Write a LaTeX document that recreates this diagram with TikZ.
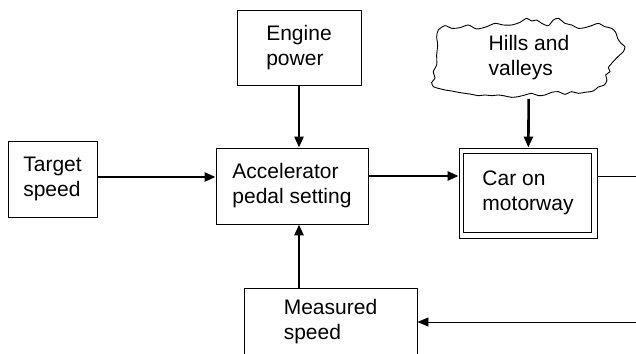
\documentclass[tikz,border=0pt]{standalone}
\usepackage{fontspec}
\setmainfont{Liberation Sans}
\usetikzlibrary{arrows.meta,positioning}
\tikzset{
  block/.style={draw, line width=0.9pt, align=left, inner sep=0pt,
    font=\fontsize{21}{25}\selectfont},
  cloudtext/.style={block, draw=none},
  flow/.style={-{Triangle[length=11pt,width=9pt]}, line width=2.6pt},
  feed/.style={-{Triangle[length=11pt,width=9pt]}, line width=0.9pt},
}

\begin{document}
\begin{tikzpicture}[x=1pt, y=-1pt]
\clip (0,0) rectangle (636,353);

% Controller chain
\node[block, minimum width=152pt, minimum height=76pt] (accel) at (292,186) {Accelerator\\pedal setting};
\node[block, minimum width=89pt, minimum height=76pt] (target) at (52.5,179) {Target\\speed};
\node[block, minimum width=124pt, minimum height=75pt] (engine) at (299,47.5) {Engine\\power};
\node[block, minimum width=173pt, minimum height=68pt] (measured) at (330.5,322) {Measured\\speed};

% The plant (double frame) and its disturbance
\node[block, minimum width=138pt, minimum height=90pt] (car) at (528,193) {Car on\\motorway};
\draw[line width=0.9pt] ([shift={(5pt,-6pt)}]car.north west) rectangle ([shift={(-6pt,6pt)}]car.south east);
\node[cloudtext, minimum width=186pt, minimum height=82pt] (hills) at (529,57.5) {Hills and\\valleys};
\begin{scope}[shift={(425,5)}, x=0.3333pt, y=-0.3333pt]
  \draw[line width=0.9pt] plot[smooth cycle, tension=0.45] coordinates {
    (40,75) (60,62) (80,70) (105,68) (130,60) (155,72) (185,65) (210,55)
    (235,60) (260,60) (285,52) (305,40) (320,48) (335,45) (350,55) (370,62)
    (385,45) (400,40) (420,55) (440,60) (460,70) (480,68) (505,60) (520,55)
    (540,65) (560,70) (572,82) (578,100) (588,115) (600,125) (595,140)
    (582,152) (568,166) (556,180) (550,188) (555,200) (542,210) (546,225)
    (538,240) (520,246) (505,258) (480,262) (460,265) (440,260) (420,268)
    (400,260) (380,262) (360,270) (340,272) (320,265) (300,270) (280,275)
    (260,277) (240,273) (220,270) (200,272) (180,270) (160,272) (140,268)
    (120,265) (100,262) (80,258) (60,255) (40,250) (25,245) (20,232)
    (30,220) (25,200) (35,180) (35,150) (38,120) (35,95)};
\end{scope}

\coordinate (out) at (636,176);
\coordinate (back) at (636,322);

\draw[flow] (target.east |- 0,177) -- (accel.west |- 0,177);
\draw[flow] (engine) -- (engine |- accel.north);
\draw[flow] (accel.east |- out) -- (car.west |- out);
\draw[flow] (hills) -- (car);
\draw[flow] (engine |- measured.north) -- (engine |- accel.south);
\draw[line width=0.9pt] (car.east |- out) -- (out);
\draw[feed] (back) -- (measured);

\end{tikzpicture}
\end{document}
